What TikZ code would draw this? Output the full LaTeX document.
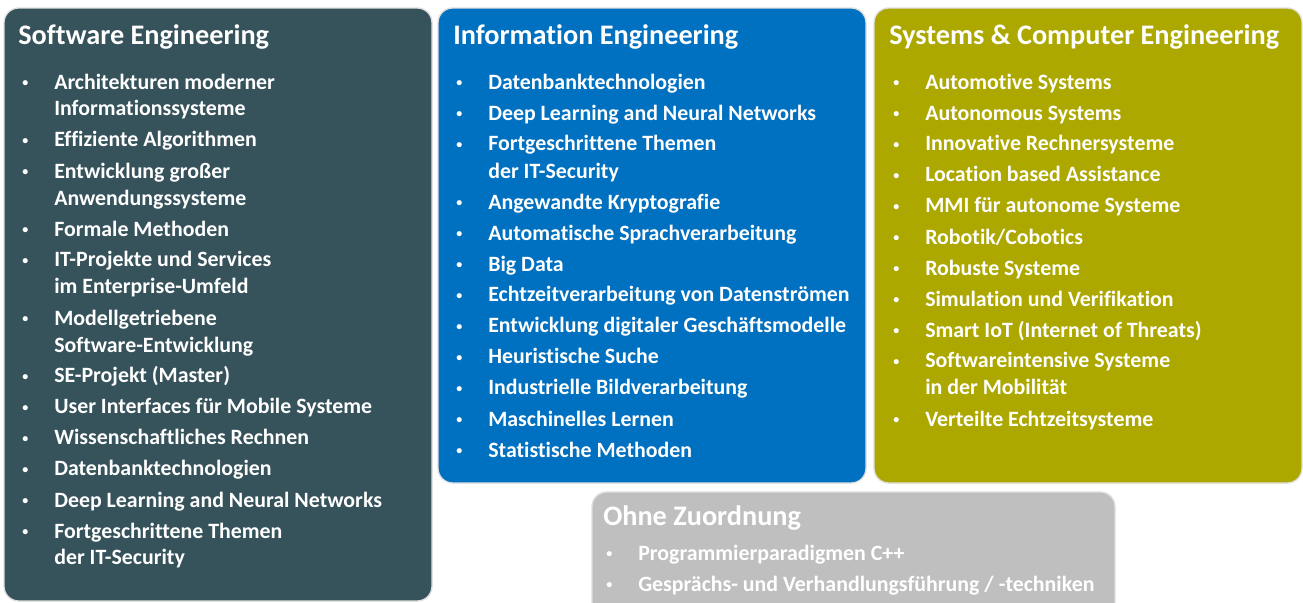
\documentclass[tikz,border=0pt]{standalone}
\usepackage{fontspec}
\setmainfont{Carlito}[Ligatures={NoCommon}]

\definecolor{secolor}{RGB}{54,82,90}
\definecolor{iecolor}{RGB}{0,112,192}
\definecolor{scecolor}{RGB}{173,168,0}
\definecolor{ozcolor}{RGB}{191,191,191}

\newcommand{\pt}{\raisebox{1.6pt}{\fontsize{9}{9}\selectfont\textbullet}}

\tikzset{
  area/.style={rounded corners=11pt, draw=gray!25, line width=1pt},
  areatitle/.style={anchor=base west, inner sep=0pt, text=white,
    font=\fontsize{21.2}{25}\selectfont\bfseries},
  itemlist/.style={anchor=base west, inner sep=0pt, text=white,
    font=\fontsize{16.4}{20.25}\selectfont\bfseries},
}

\begin{document}
\begin{tikzpicture}[x=0.75pt, y=-0.75pt]
                \useasboundingbox (0, 0) rectangle (1303, 603);
                % boxes
                \draw [area, fill=secolor] (4, 8) rectangle (432, 601);
                \draw [area, fill=iecolor] (438, 8) rectangle (866, 483);
                \draw [area, fill=scecolor] (874, 8) rectangle (1302, 483);
                \draw [area, fill=ozcolor] (592, 492) rectangle (1115, 640);
                % titles
                \node [areatitle] (se) at (18, 44) {Software Engineering};
                \node [areatitle] (ie) at (453, 44) {Information Engineering};
                \node [areatitle] (sce) at (889, 44) {Systems \& Computer Engineering};
                \node [areatitle] (oz) at (603, 525) {Ohne Zuordnung};
                % lists
                \node [itemlist] (se-list) at (22, 89) {\begin{tabular}[t]{@{}p{24pt}@{}l@{}}
                  \pt & Architekturen moderner\\
                  & Informationssysteme\\[3pt]
                  \pt & Effiziente Algorithmen\\[3pt]
                  \pt & Entwicklung großer\\
                  & Anwendungssysteme\\[3pt]
                  \pt & Formale Methoden\\[3pt]
                  \pt & IT-Projekte und Services\\
                  & im Enterprise-Umfeld\\[3pt]
                  \pt & Modellgetriebene\\
                  & Software-Entwicklung\\[3pt]
                  \pt & SE-Projekt (Master)\\[3pt]
                  \pt & User Interfaces für Mobile Systeme\\[3pt]
                  \pt & Wissenschaftliches Rechnen\\[3pt]
                  \pt & Datenbanktechnologien\\[3pt]
                  \pt & Deep Learning and Neural Networks\\[3pt]
                  \pt & Fortgeschrittene Themen\\
                  & der IT-Security
                \end{tabular}};
                \node [itemlist] (ie-list) at (456, 89) {\begin{tabular}[t]{@{}p{24pt}@{}l@{}}
                  \pt & Datenbanktechnologien\\[3pt]
                  \pt & Deep Learning and Neural Networks\\[3pt]
                  \pt & Fortgeschrittene Themen\\
                  & der IT-Security\\[3pt]
                  \pt & Angewandte Kryptografie\\[3pt]
                  \pt & Automatische Sprachverarbeitung\\[3pt]
                  \pt & Big Data\\[3pt]
                  \pt & Echtzeitverarbeitung von Datenströmen\\[3pt]
                  \pt & Entwicklung digitaler Geschäftsmodelle\\[3pt]
                  \pt & Heuristische Suche\\[3pt]
                  \pt & Industrielle Bildverarbeitung\\[3pt]
                  \pt & Maschinelles Lernen\\[3pt]
                  \pt & Statistische Methoden
                \end{tabular}};
                \node [itemlist] (sce-list) at (893, 89) {\begin{tabular}[t]{@{}p{24pt}@{}l@{}}
                  \pt & Automotive Systems\\[3pt]
                  \pt & Autonomous Systems\\[3pt]
                  \pt & Innovative Rechnersysteme\\[3pt]
                  \pt & Location based Assistance\\[3pt]
                  \pt & MMI für autonome Systeme\\[3pt]
                  \pt & Robotik/Cobotics\\[3pt]
                  \pt & Robuste Systeme\\[3pt]
                  \pt & Simulation und Verifikation\\[3pt]
                  \pt & Smart IoT (Internet of Threats)\\[3pt]
                  \pt & Softwareintensive Systeme\\
                  & in der Mobilität\\[3pt]
                  \pt & Verteilte Echtzeitsysteme
                \end{tabular}};
                \node [itemlist] (oz-list) at (606, 560) {\begin{tabular}[t]{@{}p{24pt}@{}l@{}}
                  \pt & Programmierparadigmen C++\\[3pt]
                  \pt & Gesprächs- und Verhandlungsführung / -techniken
                \end{tabular}};
            \end{tikzpicture}
\end{document}
